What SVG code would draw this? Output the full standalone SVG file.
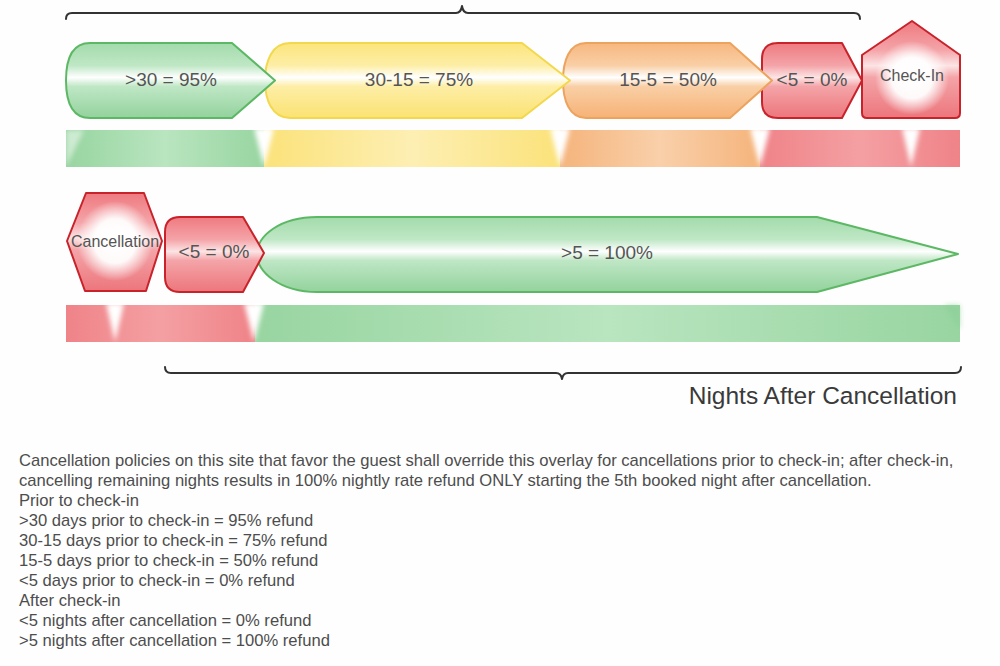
<svg xmlns="http://www.w3.org/2000/svg" width="1000" height="666" viewBox="0 0 1000 666">
<style>
.lbl{font-family:"Liberation Sans",Arial,sans-serif;font-size:19px;fill:#555;text-anchor:middle}
.lbs{font-family:"Liberation Sans",Arial,sans-serif;font-size:16px;fill:#555;text-anchor:middle}
.body{font-family:"Liberation Sans",Arial,sans-serif;font-size:16.6px;fill:#4d4d4d}
.brace{fill:none;stroke:#333;stroke-width:2;stroke-linecap:round;stroke-linejoin:round}
.sh{stroke-width:2;stroke-linejoin:round}
.green{fill:url(#gGreen);stroke:#5cb864}
.yellow{fill:url(#gYellow);stroke:#f3d84e}
.orange{fill:url(#gOrange);stroke:#eca35e}
.red{fill:url(#gRed);stroke:#c8232b}
.gap{fill:#fff;filter:url(#blur)}
</style>
<defs>
<linearGradient id="gGreen" x1="0" y1="0" x2="0" y2="1">
<stop offset="0" stop-color="#a3dbab"/><stop offset="0.3" stop-color="#bfe7c5"/><stop offset="0.46" stop-color="#ffffff"/><stop offset="0.58" stop-color="#bfe7c5"/><stop offset="1" stop-color="#93d29d"/>
</linearGradient>
<linearGradient id="gYellow" x1="0" y1="0" x2="0" y2="1">
<stop offset="0" stop-color="#fce57c"/><stop offset="0.3" stop-color="#fdeea6"/><stop offset="0.46" stop-color="#ffffff"/><stop offset="0.58" stop-color="#fdeea6"/><stop offset="1" stop-color="#fbe272"/>
</linearGradient>
<linearGradient id="gOrange" x1="0" y1="0" x2="0" y2="1">
<stop offset="0" stop-color="#f7b77f"/><stop offset="0.3" stop-color="#f9cfa6"/><stop offset="0.46" stop-color="#ffffff"/><stop offset="0.58" stop-color="#f9cfa6"/><stop offset="1" stop-color="#f6b276"/>
</linearGradient>
<linearGradient id="gRed" x1="0" y1="0" x2="0" y2="1">
<stop offset="0" stop-color="#ee7a80"/><stop offset="0.3" stop-color="#f4a4a8"/><stop offset="0.46" stop-color="#fce4e5"/><stop offset="0.58" stop-color="#f4a4a8"/><stop offset="1" stop-color="#ec767c"/>
</linearGradient>
<radialGradient id="glow" cx="0.5" cy="0.5" r="0.5">
<stop offset="0" stop-color="#fff"/><stop offset="0.55" stop-color="#fff" stop-opacity="0.95"/><stop offset="1" stop-color="#fff" stop-opacity="0"/>
</radialGradient>
<linearGradient id="bGreen" x1="0" y1="0" x2="1" y2="0">
<stop offset="0" stop-color="#98d5a1"/><stop offset="0.5" stop-color="#b9e5bf"/><stop offset="1" stop-color="#98d5a1"/>
</linearGradient>
<linearGradient id="bYellow" x1="0" y1="0" x2="1" y2="0">
<stop offset="0" stop-color="#fbe27a"/><stop offset="0.5" stop-color="#fdefb3"/><stop offset="1" stop-color="#fbe27a"/>
</linearGradient>
<linearGradient id="bOrange" x1="0" y1="0" x2="1" y2="0">
<stop offset="0" stop-color="#f5b47c"/><stop offset="0.5" stop-color="#f9d0aa"/><stop offset="1" stop-color="#f5b47c"/>
</linearGradient>
<linearGradient id="bRed" x1="0" y1="0" x2="1" y2="0">
<stop offset="0" stop-color="#ef8388"/><stop offset="0.5" stop-color="#f4a0a3"/><stop offset="1" stop-color="#ef8388"/>
</linearGradient>
<filter id="blur" x="-50%" y="-20%" width="200%" height="140%"><feGaussianBlur stdDeviation="2.5"/></filter>
</defs>
<rect width="1000" height="666" fill="#fefefe"/>

<g id="braces">
<path class="brace" d="M66,19 Q66,13 72,13 H456 Q461,13 462,6 Q463,13 468,13 H854 Q860,13 860,19"/>
<path class="brace" d="M165,367 Q165,373 171,373 H556 Q561,373 562,379 Q563,373 568,373 H955 Q961,373 961,367"/>
</g>

<g id="band-before">
<rect x="66" y="130" width="198" height="37" fill="url(#bGreen)"/>
<rect x="264" y="130" width="296" height="37" fill="url(#bYellow)"/>
<rect x="560" y="130" width="200" height="37" fill="url(#bOrange)"/>
<rect x="760" y="130" width="200" height="37" fill="url(#bRed)"/>
<polygon class="gap" points="254,128 274,128 264,167"/>
<polygon class="gap" points="550,128 570,128 560,167"/>
<polygon class="gap" points="750,128 770,128 760,167"/>
<polygon class="gap" points="902,128 920,128 911,167"/>
<polygon points="66,130 84,130 66,167" fill="#fff" opacity="0.5" filter="url(#blur)"/>
</g>

<g id="band-after">
<rect x="66" y="305" width="189" height="37" fill="url(#bRed)"/>
<rect x="255" y="305" width="705" height="37" fill="url(#bGreen)"/>
<polygon class="gap" points="106,303 124,303 115,342"/>
<polygon class="gap" points="244,303 264,303 254,342"/>
<polygon points="944,305 960,305 960,330" fill="#8ccf97" opacity="0.6" filter="url(#blur)"/>
</g>

<g id="node-checkin">
<path class="sh red" d="M912,21 L960,55 V113 Q960,118 955,118 H867 Q862,118 862,113 V55 Z"/>
<ellipse cx="912" cy="78" rx="37" ry="37" fill="url(#glow)"/>
<text class="lbs" x="912" y="81">Check-In</text>
</g>
<g id="node-lt5-before">
<path class="sh red" d="M778,43 H842 L862,80.5 L842,118 H778 Q762,118 762,102 V59 Q762,43 778,43 Z"/>
<text class="lbl" x="812" y="86">&lt;5 = 0%</text>
</g>
<g id="node-15-5">
<path class="sh orange" d="M586,43 H730 L772,80.5 L730,118 H586 C569,118 563,100 563,80.5 C563,61 569,43 586,43 Z"/>
<text class="lbl" x="668" y="86">15-5 = 50%</text>
</g>
<g id="node-30-15">
<path class="sh yellow" d="M290,43 H522 L570,80.5 L522,118 H290 C272,118 265,100 265,80.5 C265,61 272,43 290,43 Z"/>
<text class="lbl" x="419" y="86">30-15 = 75%</text>
</g>
<g id="node-gt30">
<path class="sh green" d="M90,43 H232 L275,80.5 L232,118 H90 C71,118 66,100 66,80.5 C66,61 71,43 90,43 Z"/>
<text class="lbl" x="171" y="86">&gt;30 = 95%</text>
</g>

<g id="node-gt5-after">
<path class="sh green" d="M317,217 H817 L958,254 L817,292 H317 C280,292 257,272 257,254 C257,236 280,217 317,217 Z"/>
<text class="lbl" x="607" y="259">&gt;5 = 100%</text>
</g>
<g id="node-lt5-after">
<path class="sh red" d="M180,217 H243 L264,253 L243,292 H180 Q165,292 165,277 V232 Q165,217 180,217 Z"/>
<text class="lbl" x="214" y="258">&lt;5 = 0%</text>
</g>
<g id="node-cancellation">
<path class="sh red" d="M86,193 H144 L162,241 L146,291 H85 L67,241 Z"/>
<ellipse cx="115" cy="241" rx="38" ry="40" fill="url(#glow)"/>
<text class="lbs" x="115" y="247">Cancellation</text>
</g>

<text x="957" y="404" text-anchor="end" style="font-family:'Liberation Sans',Arial,sans-serif;font-size:24.5px;fill:#3a3a3a">Nights After Cancellation</text>

<g id="notes" class="body">
<text x="19" y="466">Cancellation policies on this site that favor the guest shall override this overlay for cancellations prior to check-in; after check-in,</text>
<text x="19" y="486">cancelling remaining nights results in 100% nightly rate refund ONLY starting the 5th booked night after cancellation.</text>
<text x="19" y="506">Prior to check-in</text>
<text x="19" y="526">&gt;30 days prior to check-in = 95% refund</text>
<text x="19" y="546">30-15 days prior to check-in = 75% refund</text>
<text x="19" y="566">15-5 days prior to check-in = 50% refund</text>
<text x="19" y="586">&lt;5 days prior to check-in = 0% refund</text>
<text x="19" y="606">After check-in</text>
<text x="19" y="626">&lt;5 nights after cancellation = 0% refund</text>
<text x="19" y="646">&gt;5 nights after cancellation = 100% refund</text>
</g>
</svg>
